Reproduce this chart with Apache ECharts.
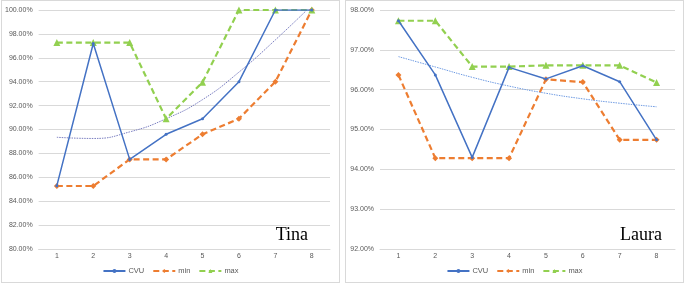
<!DOCTYPE html>
<html>
<head>
<meta charset="utf-8">
<script src="https://cdn.jsdelivr.net/npm/echarts@6/dist/echarts.min.js"></script>
<style>
  html, body { margin: 0; padding: 0; background: #fff; }
  .panel {
    position: absolute;
    top: 0;
    width: 337px;
    height: 281px;
    border: 1px solid #d9d9d9;
    background: #fff;
  }
  #tina-panel { left: 1px; }
  #laura-panel { left: 345px; }
</style>
</head>
<body>
<div id="tina-panel" class="panel"></div>
<div id="laura-panel" class="panel"></div>
<script>
// x categories (weeks)
const weeks = ['1', '2', '3', '4', '5', '6', '7', '8'];

// Tina, values in %
const tinaCvu = [85.3, 97.2, 87.5, 89.6, 90.9, 94.0, 100, 100];
const tinaMin = [85.27, 85.27, 87.5, 87.5, 89.6, 90.9, 94.0, 100];
const tinaMax = [97.27, 97.27, 97.27, 90.9, 93.95, 100, 100, 100];
const tinaTrend = [89.35, 89.25, 89.8, 90.9, 92.5, 94.8, 97.5, 100.4];

// Laura, values in %
const lauraCvu = [97.73, 96.37, 94.3, 96.56, 96.27, 96.6, 96.2, 94.74];
const lauraMin = [96.37, 94.28, 94.28, 94.28, 96.26, 96.19, 94.74, 94.74];
const lauraMax = [97.73, 97.73, 96.58, 96.58, 96.61, 96.61, 96.61, 96.18];
const lauraTrend = [96.83, 96.57, 96.31, 96.09, 95.91, 95.77, 95.66, 95.57];

const COLORS = {
  cvu: '#4472c4',
  min: '#ed7d31',
  max: '#92d050',
  grid: '#d9d9d9',
  text: '#595959'
};

/**
 * Build option for one person's chart
 */
function buildOption(cfg) {
  return {
    animation: false,
    textStyle: { fontFamily: 'Liberation Sans' },
    grid: {
      left: cfg.gridLeft,
      right: cfg.gridRight,
      top: 9,
      bottom: 33
    },
    legend: {
      data: ['CVU', 'min', 'max'],
      bottom: 2,
      left: 'center',
      itemWidth: 22,
      itemHeight: 5,
      itemGap: 8,
      textStyle: { color: COLORS.text, fontSize: 7.5, padding: [0, 0, 0, -2] }
    },
    xAxis: {
      type: 'category',
      data: weeks,
      axisLine: { lineStyle: { color: COLORS.grid } },
      axisTick: { show: false },
      axisLabel: { color: COLORS.text, fontSize: 7, margin: 4 }
    },
    yAxis: {
      type: 'value',
      min: cfg.min,
      max: cfg.max,
      interval: cfg.interval,
      axisLine: { show: false },
      axisTick: { show: false },
      axisLabel: {
        color: COLORS.text,
        fontSize: 7,
        margin: 6,
        formatter: (v) => v.toFixed(2) + '%'
      },
      splitLine: { lineStyle: { color: COLORS.grid } }
    },
    graphic: [{
      type: 'text',
      right: cfg.nameRight,
      top: 225,
      style: {
        text: cfg.name,
        fill: '#000',
        font: '18px "Liberation Serif"'
      }
    }],
    series: [
      {
        name: 'trend',
        type: 'line',
        data: cfg.trend,
        smooth: true,
        symbol: 'none',
        silent: true,
        lineStyle: { color: cfg.trendColor, width: 1, type: [1.5, 1] },
        z: 1
      },
      {
        name: 'CVU',
        type: 'line',
        data: cfg.cvu,
        symbol: 'circle',
        symbolSize: 3,
        lineStyle: { color: COLORS.cvu, width: 1.5 },
        itemStyle: { color: COLORS.cvu },
        z: 3
      },
      {
        name: 'min',
        type: 'line',
        data: cfg.minVals,
        symbol: 'diamond',
        symbolSize: 6,
        lineStyle: { color: COLORS.min, width: 2.2, type: [6, 3.5] },
        itemStyle: { color: COLORS.min },
        z: 2
      },
      {
        name: 'max',
        type: 'line',
        data: cfg.maxVals,
        symbol: 'triangle',
        symbolSize: 7,
        lineStyle: { color: COLORS.max, width: 2.2, type: [6, 3.5] },
        itemStyle: { color: COLORS.max },
        z: 2
      }
    ]
  };
}

const tinaChart = echarts.init(document.getElementById('tina-panel'));
tinaChart.setOption(buildOption({
  name: 'Tina',
  nameRight: 31,
  gridLeft: 35,
  gridRight: 9,
  min: 80,
  max: 100,
  interval: 2,
  cvu: tinaCvu,
  minVals: tinaMin,
  maxVals: tinaMax,
  trend: tinaTrend,
  trendColor: '#7b7fc0'
}));

const lauraChart = echarts.init(document.getElementById('laura-panel'));
lauraChart.setOption(buildOption({
  name: 'Laura',
  nameRight: 21,
  gridLeft: 34,
  gridRight: 8,
  min: 92,
  max: 98,
  interval: 1,
  cvu: lauraCvu,
  minVals: lauraMin,
  maxVals: lauraMax,
  trend: lauraTrend,
  trendColor: '#6f9be2'
}));
</script>
</body>
</html>
